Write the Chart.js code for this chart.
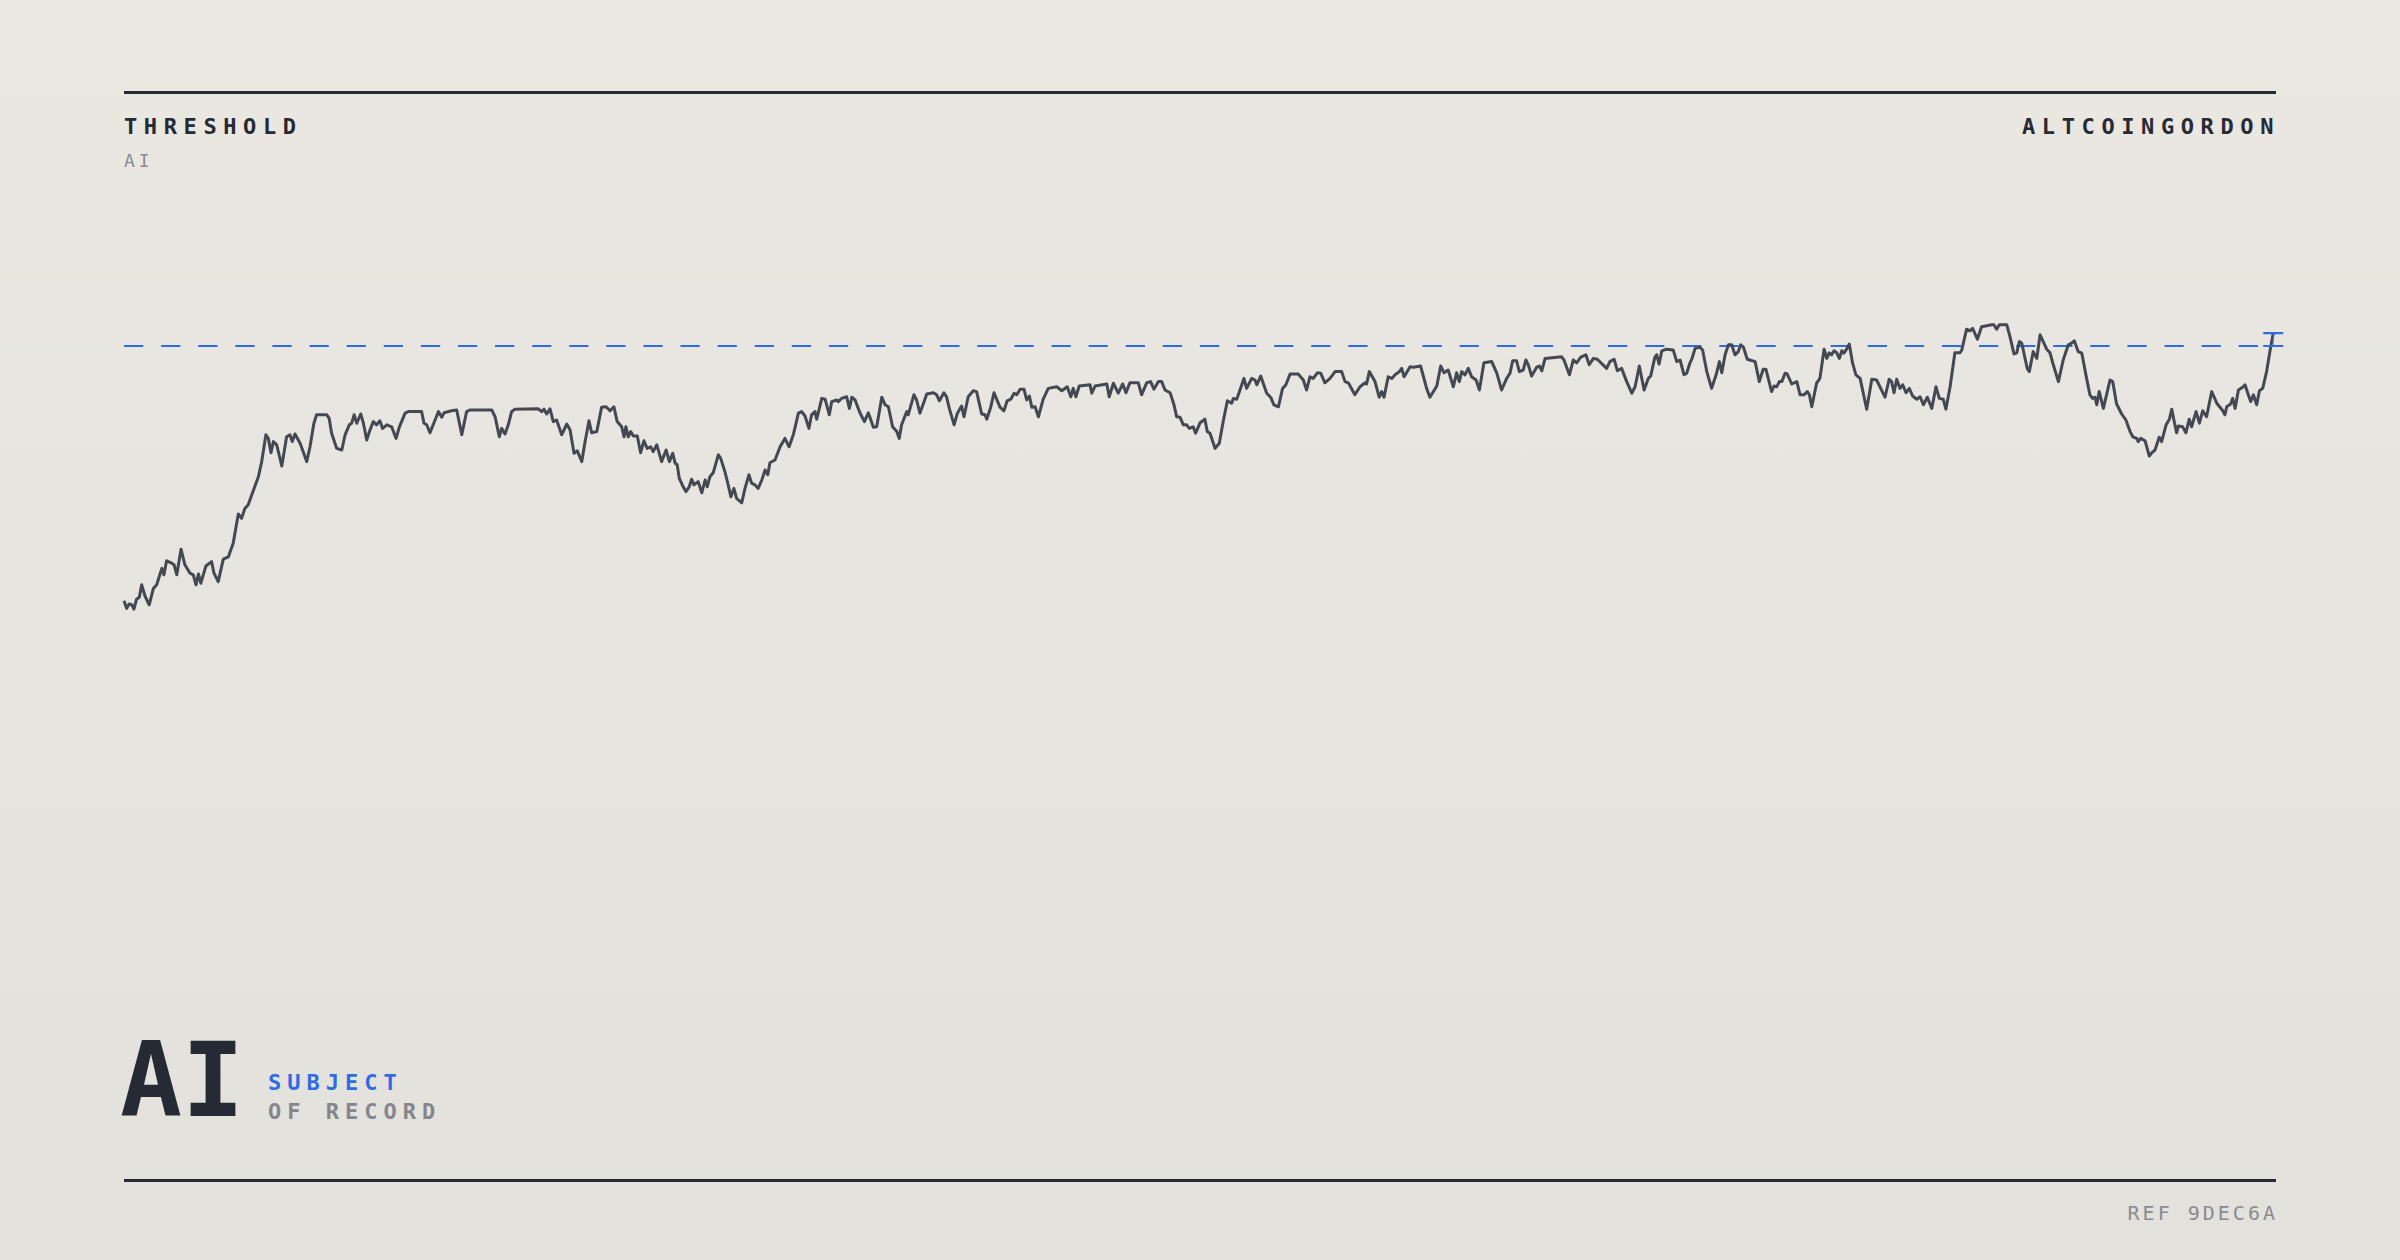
<!DOCTYPE html>
<html>
<head>
<meta charset="utf-8">
<script src="https://cdn.jsdelivr.net/npm/chart.js@4.4.1/dist/chart.umd.min.js"></script>
<style>
  html, body { margin: 0; padding: 0; }
  body {
    width: 2400px; height: 1260px; position: relative; overflow: hidden;
    background: linear-gradient(180deg, #ebe8e2 0%, #e2e1dc 100%);
    font-family: "DejaVu Sans Mono", "Liberation Mono", monospace;
    color: #262a35;
  }
  #chart { position: absolute; left: 0; top: 0; }
  .rule { position: absolute; left: 124px; width: 2152px; height: 3px; background: #262a35; }
  .t { position: absolute; white-space: nowrap; line-height: 1; }
  .head { font-size: 22px; font-weight: bold; letter-spacing: 6.6px; top: 116px; }
  .sub { font-size: 18px; letter-spacing: 4px; color: #8b8c92; left: 124px; top: 152px; }
  .big { font-size: 103px; font-weight: bold; left: 120px; top: 1029px; }
  .tag { font-size: 22px; font-weight: bold; letter-spacing: 6px; left: 268px; }
  .ref { font-size: 20px; letter-spacing: 3px; color: #8a8b90; right: 122px; top: 1203px; }
</style>
</head>
<body>
<div class="rule" style="top:91px"></div>
<div class="rule" style="top:1179px"></div>
<div class="t head" style="left:124px">THRESHOLD</div>
<div class="t sub">AI</div>
<div class="t head" style="right:120px">ALTCOINGORDON</div>
<div class="t big">AI</div>
<div class="t tag" style="top:1072px;color:#2f6ce3">SUBJECT</div>
<div class="t tag" style="top:1101px;color:#85868c">OF RECORD</div>
<div class="t ref">REF 9DEC6A</div>
<canvas id="chart" width="2400" height="1260"></canvas>
<script>
// day index of each reading
var days = [
  0, 0.9, 1.7, 2.6, 3.3, 4.2, 5.1, 5.9, 7.0, 8.4,
  9.8, 10.9, 12.6, 13.3, 14.2, 15.9, 16.7, 17.6, 19.0, 20.3,
  22.0, 23.1, 24.0, 24.8, 25.6, 27.3, 29.2, 30.0, 31.4, 33.1,
  34.8, 36.4, 38.1, 39.2, 40.3, 41.4, 42.6, 44.8, 45.9, 47.3,
  48.1, 49.0, 49.8, 50.9, 52.6, 54.2, 55.3, 56.1, 57.0, 58.7,
  60.9, 62.0, 63.3, 64.2, 67.6, 68.4, 69.2, 70.9, 72.6, 73.7,
  75.1, 75.9, 76.7, 77.6, 78.9, 79.8, 80.9, 82.0, 83.1, 84.2,
  85.3, 86.2, 87.6, 89.2, 90.7, 91.8,
  93.7, 94.8, 99.2, 100.0, 100.9, 102.0, 103.7, 104.8, 105.9, 106.7,
  109.2, 110.9, 112.6, 114.2, 115.3, 122.6, 123.7, 125.1, 125.9, 127.0,
  128.1, 129.2, 130.3, 138.1, 139.2, 140.0, 140.9, 142.0, 143.1, 144.2,
  145.9, 147.6, 148.7, 150.0, 151.1, 152.6, 153.7, 155.0, 155.9, 157.6,
  159.2, 160.7, 162.0, 163.3, 164.4, 165.9, 166.7, 167.3, 168.1, 168.9,
  169.8, 171.1, 172.2, 173.3, 174.4, 175.6, 176.4, 177.6, 179.2, 180.7,
  181.8,
  182.9, 183.7, 184.4, 185.1, 186.4, 187.3, 188.4, 189.2, 190.0, 191.4,
  192.6, 193.7, 194.4, 195.3, 196.4, 198.1, 198.9, 200.3, 201.4, 202.3,
  203.3, 204.2, 205.9, 207.0, 208.3, 209.2, 210.3, 211.4, 212.6, 213.7,
  214.6, 215.3, 217.0, 218.7, 220.3, 221.7, 223.1, 224.8, 225.9, 227.0,
  228.3, 229.2, 230.3, 230.9, 232.6, 233.7, 235.1, 235.9, 237.6, 238.1,
  239.2, 240.9, 241.8, 242.6, 243.7, 245.3, 246.8, 248.1, 249.8, 250.9,
  252.6, 253.7, 254.8, 256.2, 257.6, 258.4, 259.2, 260.9, 261.4, 263.3,
  264.2, 265.3, 267.6, 269.8, 270.9, 271.8, 273.3, 274.2, 275.1, 276.7,
  277.8, 279.2, 280.0, 281.4, 283.1, 284.2, 285.9, 287.0, 287.6, 288.9,
  290.0, 292.0, 293.3, 294.4, 295.6, 296.7, 297.6, 298.7, 300.0, 300.9,
  301.8, 302.6, 303.7, 304.8, 306.4, 308.1, 310.9, 312.6, 314.4, 315.6,
  316.4, 317.3, 318.4, 322.0, 322.6, 323.7, 327.6, 328.4, 329.8, 331.4,
  332.9, 334.0, 335.3, 338.1, 339.2, 340.9, 342.2, 343.3, 344.8, 345.9,
  347.0, 348.7, 350.0, 350.9, 352.0, 353.1, 354.2, 355.1, 356.4, 357.2,
  358.7, 360.3, 361.1, 362.0, 363.7, 365.1, 366.4, 367.8, 369.2, 369.8,
  370.9, 372.0,
  373.3, 374.2, 375.9, 377.0, 377.6, 378.9, 380.9, 382.2, 383.3, 384.8,
  386.2, 387.3, 388.7, 391.4, 393.1, 394.2, 395.3, 396.4, 397.8, 398.9,
  400.3, 402.0, 403.7, 405.9, 407.0, 408.1, 410.3, 412.0, 413.7, 414.2,
  415.1, 417.0, 418.4, 419.2, 420.0, 421.4, 422.6, 423.7, 425.1, 425.9,
  426.7, 428.7, 429.8, 432.2, 434.2, 435.3, 437.6, 438.9, 440.0, 441.4,
  443.1, 444.2, 445.1, 445.9, 447.0, 448.1, 449.2, 450.7, 451.8, 453.3,
  455.9, 457.6, 459.2, 460.9, 462.0, 462.9, 464.2, 465.1,
  466.4, 467.3, 468.1, 469.2, 470.9, 471.8, 472.6, 473.7, 479.2, 480.0,
  481.8, 483.1, 484.2, 485.6, 487.3, 488.4, 489.8, 491.1, 494.2, 495.3,
  496.7, 497.8, 499.2, 500.9, 502.6, 503.7, 505.1, 506.7, 508.1, 508.9,
  510.3, 510.9, 511.7, 512.6, 514.2, 516.4, 517.6, 518.7, 520.0, 520.9,
  522.0, 522.6, 523.7, 525.3, 526.2, 527.6, 529.2, 530.7, 531.8, 532.6,
  533.7, 534.8, 535.9, 537.0, 538.1, 538.9, 539.8, 541.1, 543.7, 545.1,
  546.4, 547.3, 549.2, 550.0, 550.9, 551.8, 552.6, 553.7, 554.4, 555.9,
  557.6, 558.7, 560.0, 561.1, 561.8, 562.6, 564.2, 565.3, 566.7, 567.6,
  568.4, 569.2, 570.0, 570.9, 571.8, 572.6, 573.3, 574.2, 575.1, 576.2,
  577.3, 578.7, 580.9, 582.6, 584.2, 587.0, 588.4, 589.2, 590.0, 590.9,
  592.0, 592.9, 594.0, 595.1, 596.2, 597.6, 598.7, 599.8, 601.1, 602.6,
  604.0, 605.1, 606.4, 607.3, 608.7, 610.3, 612.0, 612.6, 614.2, 615.3,
  616.2, 617.8, 619.2, 622.6, 623.3, 624.2, 625.1, 627.6, 628.7, 630.0,
  630.9, 631.8, 632.6, 634.4, 635.1, 636.4, 637.6,
  638.7, 640.9, 642.0, 643.1, 644.8, 646.4, 648.1, 649.2, 650.1, 651.4,
  652.6, 654.2, 655.3, 656.2, 657.0, 657.6, 658.4, 659.8, 662.0, 662.9,
  664.2, 665.9, 667.3, 668.7, 669.6, 670.9, 671.4, 672.2, 673.7, 675.1,
  675.9, 677.0, 678.4, 679.2, 680.7, 681.8, 682.6, 683.3, 684.2, 684.8,
  686.2, 687.3, 688.4, 689.2, 690.7, 691.8, 692.9, 694.2, 695.9, 697.6,
  699.6, 700.3, 700.9, 702.2, 702.9, 703.7, 704.8, 706.2, 707.0, 708.1,
  708.9, 709.8, 710.9, 711.8, 712.9, 714.2, 715.3, 716.4
];

// score at each of those days
var scores = [
  26.3, 24.4, 25.5, 25.3, 24.2, 26.7, 27.2, 30.3, 27.5, 25.3,
  29.4, 30.3, 34.4, 32.8, 36.3, 35.7, 35.3, 32.8, 39.2, 35.3,
  33.2, 32.8, 30.3, 33.0, 30.7, 35.0, 36.1, 33.2, 31.1, 36.7,
  37.3, 40.7, 48.0, 46.9, 49.4, 50.3, 52.8, 57.3, 61.1, 67.8,
  66.9, 63.3, 66.1, 65.3, 60.0, 67.3, 67.8, 66.1, 68.0, 65.7,
  61.1, 64.8, 70.7, 72.8, 72.8, 71.9, 68.2, 64.4, 64.0, 67.8,
  70.3, 70.7, 72.8, 70.7, 73.0, 70.7, 66.5, 69.0, 71.1, 70.3,
  71.3, 69.4, 70.3, 69.8, 66.9, 69.8,
  73.2, 73.6, 73.6, 70.7, 70.3, 68.3, 71.5, 73.6, 72.2, 73.3,
  73.8, 74.0, 67.8, 73.6, 74.0, 74.0, 72.3, 67.3, 69.4, 68.0,
  70.3, 73.6, 74.2, 74.3, 73.6, 74.2, 73.0, 74.3, 71.1, 71.5,
  67.8, 70.5, 69.0, 63.2, 63.8, 61.1, 66.1, 71.3, 68.3, 68.6,
  74.7, 74.8, 73.8, 74.8, 71.1, 69.8, 67.3, 69.8, 67.3, 68.6,
  67.5, 67.5, 63.3, 66.3, 64.4, 64.8, 63.6, 65.3, 61.1, 64.0,
  61.1,
  63.2, 60.7, 60.3, 56.9, 54.8, 53.6, 54.8, 56.7, 55.3, 56.1,
  53.3, 56.5, 54.8, 57.3, 58.3, 62.8, 61.9, 58.6, 55.3, 52.3,
  54.4, 51.9, 50.8, 54.4, 57.8, 55.7, 55.3, 54.4, 56.5, 59.0,
  57.8, 60.8, 61.5, 64.8, 66.9, 64.8, 67.8, 73.2, 73.6, 72.5,
  69.4, 72.8, 73.6, 71.7, 76.9, 76.7, 72.8, 76.1, 76.5, 76.1,
  76.9, 77.3, 74.4, 77.2, 76.5, 73.3, 71.1, 73.3, 69.7, 69.8,
  77.2, 75.3, 74.8, 69.8, 68.6, 66.9, 70.3, 73.6, 72.8, 77.8,
  76.5, 73.2, 78.0, 78.3, 77.8, 76.3, 78.3, 77.3, 74.4, 70.3,
  73.2, 75.0, 72.3, 77.3, 78.8, 78.6, 73.0, 72.8, 71.7, 74.7,
  78.3, 74.7, 73.8, 76.3, 76.7, 78.2, 77.8, 79.2, 79.2, 76.5,
  77.5, 74.7, 74.8, 72.3, 76.7, 79.4, 79.8, 78.8, 79.8, 77.3,
  79.4, 77.3, 80.0, 80.3, 78.2, 80.0, 80.5, 77.3, 80.7, 78.2,
  80.5, 78.3, 80.8, 80.8, 77.8, 80.8, 81.1, 79.2, 81.1, 81.1,
  79.0, 78.3, 75.3, 72.3, 72.2, 70.3, 70.3, 69.4, 69.8, 68.2,
  70.8, 71.7, 68.6, 68.2, 64.4, 65.7, 71.1, 76.3, 75.7, 76.9,
  76.7, 79.0,
  81.9, 79.4, 81.9, 81.5, 80.3, 82.5, 78.2, 77.2, 75.3, 74.8,
  79.4, 80.3, 83.0, 83.0, 81.5, 79.0, 82.3, 81.9, 83.3, 83.2,
  80.8, 81.9, 83.6, 83.6, 81.1, 80.8, 77.8, 79.8, 80.8, 80.5,
  83.6, 81.1, 77.2, 78.6, 77.2, 82.3, 81.9, 82.8, 83.6, 84.4,
  82.3, 84.8, 84.7, 85.0, 79.4, 77.2, 80.0, 85.0, 83.3, 84.0,
  79.8, 83.3, 81.1, 83.6, 82.8, 84.4, 82.3, 81.5, 79.0, 85.8,
  86.1, 83.2, 79.0, 81.9, 83.2, 86.3, 86.3, 83.6,
  84.0, 86.5, 85.3, 82.5, 84.7, 85.0, 83.8, 86.9, 87.3, 86.5,
  82.8, 86.5, 85.8, 87.2, 87.8, 85.3, 86.9, 86.7, 84.4, 86.1,
  86.7, 83.8, 84.4, 81.1, 78.2, 79.8, 85.0, 79.0, 81.9, 82.5,
  87.2, 87.8, 85.5, 88.8, 89.2, 89.0, 86.1, 86.5, 82.8, 83.2,
  85.8, 86.7, 89.4, 89.7, 89.0, 83.6, 79.4, 82.8, 86.1, 83.3,
  87.8, 90.3, 90.3, 87.8, 88.6, 90.3, 89.7, 86.7, 86.1, 81.1,
  84.2, 84.2, 78.6, 80.0, 79.8, 81.1, 81.1, 83.2, 83.0, 80.5,
  81.1, 77.8, 77.8, 78.6, 77.8, 74.8, 80.7, 81.9, 89.2, 86.9,
  88.3, 87.8, 88.8, 88.3, 86.9, 88.8, 88.2, 89.2, 90.5, 85.7,
  82.8, 81.9, 74.2, 81.7, 81.5, 77.2, 81.7, 81.1, 78.3, 81.7,
  79.4, 80.3, 78.3, 79.4, 77.5, 76.7, 77.3, 75.3, 77.2, 74.4,
  79.8, 76.9, 76.7, 74.2, 79.8, 88.3, 88.3, 89.0, 94.2, 93.8,
  94.4, 91.7, 94.8, 95.3, 95.3, 94.2, 95.3, 95.3, 92.2, 88.0,
  88.3, 91.1, 90.7, 84.4, 83.6, 88.6, 86.9,
  92.8, 89.2, 88.3, 85.3, 81.1, 86.5, 90.3, 90.7, 91.3, 88.6,
  88.2, 81.9, 77.8, 76.9, 77.2, 75.3, 78.6, 74.4, 81.5, 81.1,
  75.5, 73.0, 71.5, 68.6, 67.3, 66.9, 66.1, 66.9, 66.3, 62.5,
  63.3, 64.0, 67.2, 66.1, 70.3, 71.7, 74.2, 71.5, 68.3, 70.0,
  69.8, 68.3, 71.7, 69.8, 73.6, 70.7, 73.8, 72.3, 78.6, 75.7,
  73.8, 72.8, 74.8, 75.5, 76.9, 74.4, 79.0, 79.7, 80.3, 77.8,
  76.1, 77.8, 75.3, 78.8, 79.4, 83.6, 88.6, 93.2
];

var threshold = 90;
var dayRange = [0, 717];
var scoreRange = [0, 100];

var ink = '#444852';
var blue = '#2f6ce3';

// little bracket between the last reading and the threshold
var endMarker = {
  id: 'endMarker',
  afterDatasetsDraw: function (chart) {
    var ctx = chart.ctx;
    var x = chart.scales.x, y = chart.scales.y;
    var px = x.getPixelForValue(days[days.length - 1]);
    var top = y.getPixelForValue(scores[scores.length - 1]);
    var bot = y.getPixelForValue(threshold);
    ctx.save();
    ctx.strokeStyle = blue;
    ctx.lineWidth = 2.2;
    ctx.beginPath();
    ctx.moveTo(px - 10, top); ctx.lineTo(px + 10, top);
    ctx.moveTo(px - 10, bot); ctx.lineTo(px + 10, bot);
    ctx.stroke();
    ctx.globalAlpha = 0.55;
    ctx.lineWidth = 1.5;
    ctx.beginPath();
    ctx.moveTo(px, top); ctx.lineTo(px, bot);
    ctx.stroke();
    ctx.restore();
  }
};

var ctx = document.getElementById('chart').getContext('2d');
var chart = new Chart(ctx, {
  type: 'line',
  data: {
    datasets: [{
      data: days.map(function (d, i) { return { x: d, y: scores[i] }; }),
      borderColor: ink,
      borderWidth: 3,
      borderJoinStyle: 'round',
      pointRadius: 0,
      tension: 0,
      clip: false
    }, {
      data: [{ x: dayRange[0], y: threshold }, { x: dayRange[1], y: threshold }],
      borderColor: blue,
      borderWidth: 2.2,
      borderDash: [19.3, 17.8],
      pointRadius: 0,
      clip: false
    }]
  },
  options: {
    responsive: false,
    devicePixelRatio: 1,
    animation: false,
    layout: { padding: { left: 124, right: 125, top: 306, bottom: 554 } },
    scales: {
      x: { type: 'linear', min: dayRange[0], max: dayRange[1], display: false },
      y: { min: scoreRange[0], max: scoreRange[1], display: false }
    },
    plugins: { legend: { display: false }, tooltip: { enabled: false } }
  },
  plugins: [endMarker]
});
</script>
</body>
</html>
